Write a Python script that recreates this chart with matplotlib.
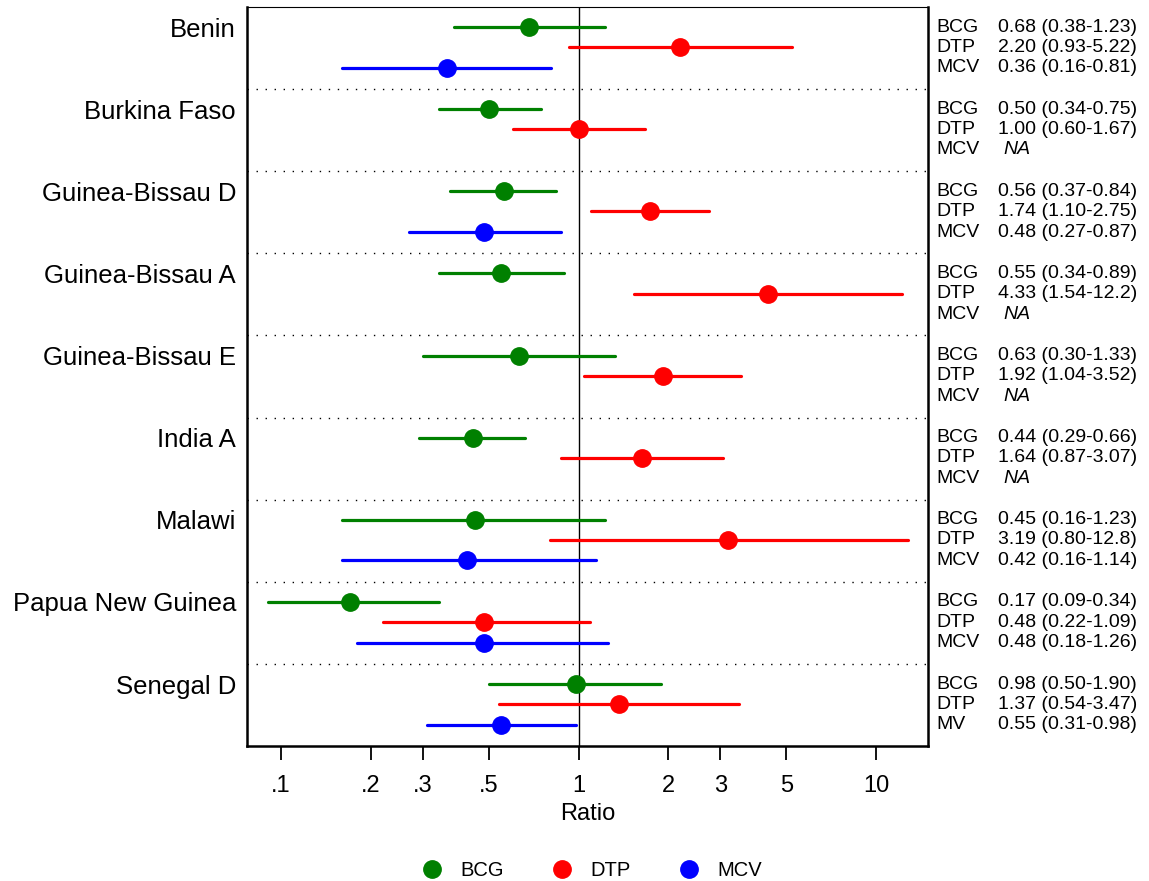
import numpy as np
import matplotlib.pyplot as plt
from matplotlib.lines import Line2D
import matplotlib.transforms as mtransforms

plt.rcParams['font.family'] = ['Liberation Sans', 'DejaVu Sans']

studies = ['Benin', 'Burkina Faso', 'Guinea-Bissau D', 'Guinea-Bissau A',
           'Guinea-Bissau E', 'India A', 'Malawi', 'Papua New Guinea', 'Senegal D']

# estimate, lower, upper (NaN = not available)
bcg_est = [0.68, 0.50, 0.56, 0.55, 0.63, 0.44, 0.45, 0.17, 0.98]
bcg_lo = [0.38, 0.34, 0.37, 0.34, 0.30, 0.29, 0.16, 0.09, 0.50]
bcg_hi = [1.23, 0.75, 0.84, 0.89, 1.33, 0.66, 1.23, 0.34, 1.90]

dtp_est = [2.20, 1.00, 1.74, 4.33, 1.92, 1.64, 3.19, 0.48, 1.37]
dtp_lo = [0.93, 0.60, 1.10, 1.54, 1.04, 0.87, 0.80, 0.22, 0.54]
dtp_hi = [5.22, 1.67, 2.75, 12.2, 3.52, 3.07, 12.8, 1.09, 3.47]

mcv_est = [0.36, np.nan, 0.48, np.nan, np.nan, np.nan, 0.42, 0.48, 0.55]
mcv_lo = [0.16, np.nan, 0.27, np.nan, np.nan, np.nan, 0.16, 0.18, 0.31]
mcv_hi = [0.81, np.nan, 0.87, np.nan, np.nan, np.nan, 1.14, 1.26, 0.98]
mcv_names = ['MCV'] * 8 + ['MV']

vaccines = ['BCG', 'DTP', 'MCV']
colors = ['#008000', '#ff0000', '#0000ff']
offsets = [0.245, 0.49, 0.74]

xticks = [0.1, 0.2, 0.3, 0.5, 1, 2, 3, 5, 10]
xticklabels = ['.1', '.2', '.3', '.5', '1', '2', '3', '5', '10']


def fmt(v):
    return '%.1f' % v if v >= 10 else '%.2f' % v


fig = plt.figure(figsize=(11.49, 8.81), dpi=100)
ax = fig.add_axes([0.215, 0.1532, 0.8077 - 0.215, 0.992 - 0.1532])

series = [(bcg_est, bcg_lo, bcg_hi), (dtp_est, dtp_lo, dtp_hi), (mcv_est, mcv_lo, mcv_hi)]
# x in figure fraction, y in data units
trans = mtransforms.blended_transform_factory(fig.transFigure, ax.transData)

for i, study in enumerate(studies):
    for k, (est, lo, hi) in enumerate(series):
        y = i + offsets[k]
        name = mcv_names[i] if k == 2 else vaccines[k]
        ax.text(936 / 1149, y, name, transform=trans, fontsize=14,
                ha='left', va='center')
        if np.isnan(est[i]):
            ax.text(1003 / 1149, y, 'NA', transform=trans, fontsize=14,
                    ha='left', va='center', style='italic')
            continue
        ax.plot([lo[i], hi[i]], [y, y], color=colors[k], lw=2.3,
                solid_capstyle='round', zorder=3)
        ax.plot(est[i], y, 'o', color=colors[k], ms=12.5, zorder=4)
        ax.text(998 / 1149, y, '%s (%s-%s)' % (fmt(est[i]), fmt(lo[i]), fmt(hi[i])),
                transform=trans, fontsize=14, ha='left', va='center')
    ax.text(236 / 1149, i + offsets[0] + 0.03, study, transform=trans, fontsize=18.5,
            ha='right', va='center')
    if i > 0:
        ax.axhline(i, color='black', lw=1, ls=(0, (1, 5.5)), zorder=1)

ax.axvline(1, color='black', lw=1, zorder=2)

ax.set_xscale('log')
ax.set_xlim(0.0768, 14.96)
ax.set_ylim(9, 0)
ax.set_xticks(xticks)
ax.set_xticklabels(xticklabels, fontsize=17)
ax.xaxis.set_minor_locator(plt.NullLocator())
ax.set_yticks([])
ax.tick_params(axis='x', length=10, width=1.3, pad=11)
ax.set_xlabel('Ratio', fontsize=17, labelpad=4)

for side in ['left', 'right', 'bottom']:
    ax.spines[side].set_linewidth(1.8)
ax.spines['top'].set_linewidth(0.8)

handles = [Line2D([], [], ls='none', marker='o', color=c, ms=12.5) for c in colors]
fig.legend(handles, vaccines, loc='center', bbox_to_anchor=(0.5145, 0.012),
           ncol=3, frameon=False, fontsize=14.5, handletextpad=0.8,
           columnspacing=2.3, handlelength=1.2)

fig.savefig('out.png', dpi=100)
